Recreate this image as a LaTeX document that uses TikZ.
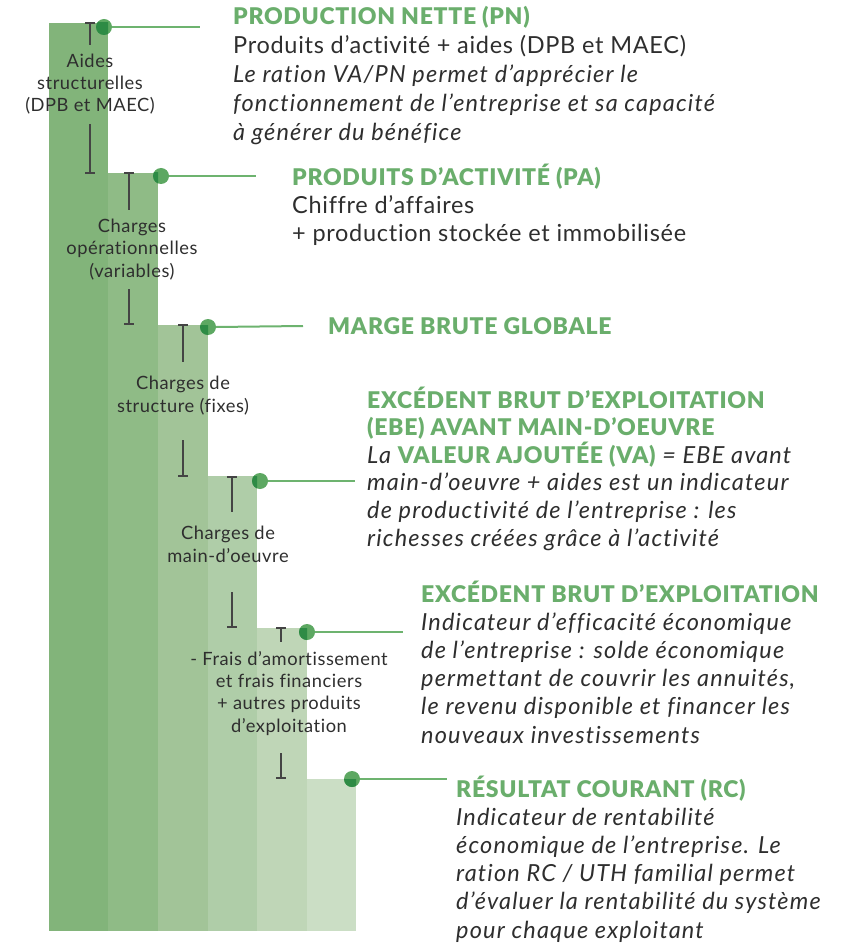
\documentclass[tikz,border=0pt]{standalone}
\usepackage{fontspec}
\setmainfont{Lato}
\newfontfamily\headfont{Lato Black}[LetterSpace=3,Ligatures=NoCommon]
\newfontfamily\bodyfont{Lato}[Ligatures=NoCommon,UprightFeatures={LetterSpace=3},ItalicFeatures={LetterSpace=5}]
\definecolor{cA}{HTML}{82B47A}
\definecolor{cB}{HTML}{8FBB86}
\definecolor{cC}{HTML}{A2C498}
\definecolor{cD}{HTML}{AFCDA8}
\definecolor{cE}{HTML}{BFD6B7}
\definecolor{cF}{HTML}{CBDEC5}
\definecolor{dotlight}{HTML}{5DA862}
\definecolor{dotdark}{HTML}{2E8B45}
\definecolor{leadc}{HTML}{6DB36F}
\definecolor{headc}{HTML}{6AAE6C}
\definecolor{txtc}{HTML}{2E2E2E}
\definecolor{markc}{HTML}{444444}
\tikzset{
  leader/.style={draw=leadc,line width=2pt},
  dotnode/.style={circle,fill=dotlight,minimum size=16pt,inner sep=0pt},
  ibeam/.style={draw=markc,line width=1.6pt},
  collabel/.style={align=center,anchor=base,inner sep=0pt,text=txtc,font=\bodyfont\fontsize{18.3}{22.3}\selectfont},
  infoblock/.style={align=left,anchor=base west,inner sep=0pt,text=txtc,font=\bodyfont\fontsize{23.5}{28.3}\selectfont},
}
\newcommand{\hd}[1]{{\headfont\fontsize{23}{28}\selectfont\color{headc}#1}}
\begin{document}
\begin{tikzpicture}[x=1pt,y=-1pt]
\useasboundingbox (0,0) rectangle (842,949);
% columns
\fill[cA] (49,23) rectangle (108,931);
\fill[cB] (108,173) rectangle (158,931);
\fill[cC] (158,325) rectangle (208,931);
\fill[cD] (208,476) rectangle (257,931);
\fill[cE] (257,628) rectangle (307,931);
\fill[cF] (307,779) rectangle (356,931);
% ibeams
\foreach \x/\a/\b/\c/\d in {90/23/45/124/173, 129/173/210/289/324, 183/325/362/440/476, 232/477/512/592/627, 281/628/642/753/778}{
  \draw[ibeam] (\x,\a) -- (\x,\b);
  \draw[ibeam] (\x-5,\a) -- (\x+5,\a);
  \draw[ibeam] (\x,\c) -- (\x,\d);
  \draw[ibeam] (\x-5,\d) -- (\x+5,\d);
}
% column labels (anchored at last baseline)
\node[collabel] (l1) at (90,112) {Aides\\structurelles\\(DPB et MAEC)};
\node[collabel] (l2) at (132,277) {Charges\\opérationnelles\\(variables)};
\node[collabel] (l3) at (183,412) {Charges de\\structure (fixes)};
\node[collabel] (l4) at (228,562) {Charges de\\main-d’oeuvre};
\node[collabel] (l5) at (289,732) {- Frais d’amortissement\\et frais financiers\\+ autres produits\\d’exploitation};
% leaders and dots
\coordinate (e1) at (200,27);
\coordinate (e2) at (256,176);
\coordinate (e3) at (303,326);
\coordinate (e4) at (355,481);
\coordinate (e5) at (403,632);
\coordinate (e6) at (447,779);
\node[dotnode] (d1) at (104,27) {};
\node[dotnode] (d2) at (161,176) {};
\node[dotnode] (d3) at (208,327) {};
\node[dotnode] (d4) at (260,481) {};
\node[dotnode] (d5) at (307,632) {};
\node[dotnode] (d6) at (352,779) {};
\draw[leader] (d1.east) -- (e1);
\draw[leader] (d2.east) -- (e2);
\draw[leader] (d3.east) -- (e3);
\draw[leader] (d4.east) -- (e4);
\draw[leader] (d5.east) -- (e5);
\draw[leader] (d6.east) -- (e6);
\begin{scope}\clip (49,23) rectangle (108,931); \fill[dotdark] (104,27) circle (8); \end{scope}
\begin{scope}\clip (108,173) rectangle (158,931); \fill[dotdark] (161,176) circle (8); \end{scope}
\begin{scope}\clip (158,325) rectangle (208,931); \fill[dotdark] (208,327) circle (8); \end{scope}
\begin{scope}\clip (208,476) rectangle (257,931); \fill[dotdark] (260,481) circle (8); \end{scope}
\begin{scope}\clip (257,628) rectangle (307,931); \fill[dotdark] (307,632) circle (8); \end{scope}
\begin{scope}\clip (307,779) rectangle (356,931); \fill[dotdark] (352,779) circle (8); \end{scope}
% info blocks (anchored at last baseline)
\node[infoblock,font=\bodyfont\fontsize{23.5}{29}\selectfont] (t1) at (233,141) {\hd{PRODUCTION NETTE (PN)}\\
Produits d’activité + aides (DPB et MAEC)\\
\itshape Le ration VA/PN permet d’apprécier le\\
\itshape fonctionnement de l’entreprise et sa capacité\\
\itshape à générer du bénéfice};
\node[infoblock] (t2) at (292,242) {\hd{PRODUITS D’ACTIVITÉ (PA)}\\
Chiffre d’affaires\\
+ production stockée et immobilisée};
\node[infoblock] (t3) at (328,334) {\hd{MARGE BRUTE GLOBALE}};
\node[infoblock,font=\bodyfont\fontsize{23.5}{27.6}\selectfont] (t4) at (367,546) {\hd{EXCÉDENT BRUT D’EXPLOITATION}\\
\hd{(EBE) AVANT MAIN-D’OEUVRE}\\
\itshape La \upshape\hd{VALEUR AJOUTÉE (VA)} \itshape = EBE avant\\
\itshape main-d’oeuvre + aides est un indicateur\\
\itshape de productivité de l’entreprise : les\\
\itshape richesses créées grâce à l’activité};
\node[infoblock,font=\bodyfont\fontsize{23.5}{28.2}\selectfont] (t5) at (421,743) {\hd{EXCÉDENT BRUT D’EXPLOITATION}\\
\itshape Indicateur d’efficacité économique\\
\itshape de l’entreprise : solde économique\\
\itshape permettant de couvrir les annuités,\\
\itshape le revenu disponible et financer les\\
\itshape nouveaux investissements};
\node[infoblock,font=\bodyfont\fontsize{23.5}{28.2}\selectfont] (t6) at (456,938) {\hd{RÉSULTAT COURANT (RC)}\\
\itshape Indicateur de rentabilité\\
\itshape économique de l’entreprise. Le\\
\itshape ration RC / UTH familial permet\\
\itshape d’évaluer la rentabilité du système\\
\itshape pour chaque exploitant};
\end{tikzpicture}
\end{document}
